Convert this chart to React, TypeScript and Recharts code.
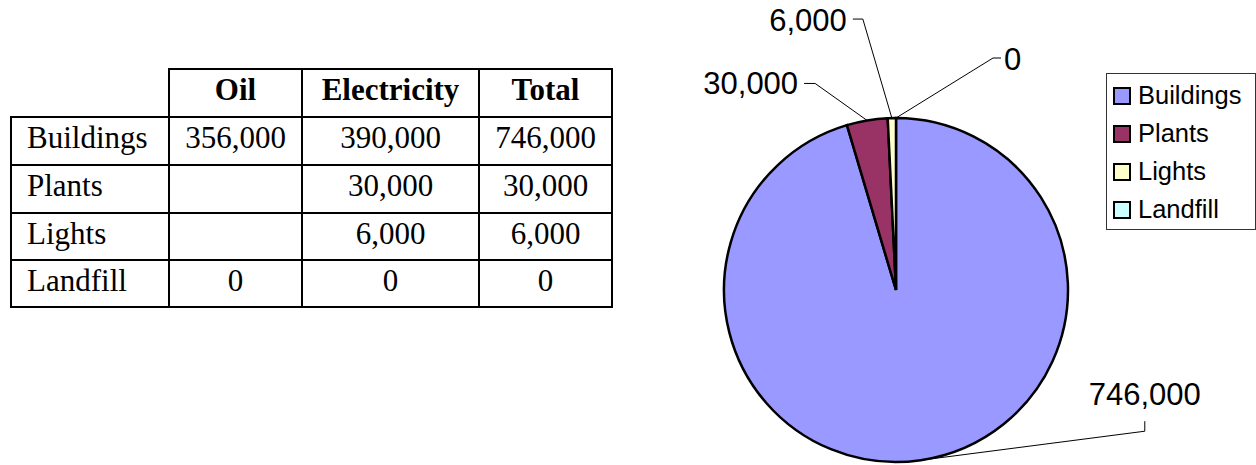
import React from 'react';
import { PieChart, Pie, Cell, Legend } from 'recharts';

// ---- data ----
const categories = ['Buildings', 'Plants', 'Lights', 'Landfill'];
const oilValues: (number | null)[] = [356000, null, null, 0];
const electricityValues: (number | null)[] = [390000, 30000, 6000, 0];
const totalValues: number[] = [746000, 30000, 6000, 0];
const columnHeaders = ['Oil', 'Electricity', 'Total'];
const sliceColors = ['#9999FF', '#993366', '#FFFFCC', '#CCFFFF'];

const pieData = categories.map((name, i) => ({ name, value: totalValues[i] }));

// ---- layout / styles ----
const W = 1256;
const H = 465;
const PIE_CX = 896;
const PIE_CY = 290;
const PIE_R = 172;

const colX = [11, 169, 302, 479, 612];
const rowY = [69, 117, 165, 213, 260, 307];

const serif = "'Liberation Serif', 'Times New Roman', Times, serif";
const sans = "'Liberation Sans', Arial, Helvetica, sans-serif";

// leader-line geometry per slice, relative to the slice's edge point
const labelLayout = [
  { dx: 224, dy: -29, ex: 0, ey: -10, tx: 0, ty: -16, anchor: 'middle' },
  { dx: -52, dy: -37, ex: -11, ey: 0, tx: -6, ty: 11, anchor: 'end' },
  { dx: -29, dy: -99, ex: -10, ey: 0, tx: -6, ty: 11.5, anchor: 'end' },
  { dx: 97, dy: -60, ex: 8, ey: 0, tx: 3, ty: 11.5, anchor: 'start' },
];

const fmt = (v: number | null) => (v === null || v === undefined ? '' : v.toLocaleString('en-US'));

const renderLabel = (props: any) => {
  const { cx, cy, midAngle, outerRadius, index, value } = props;
  const RAD = Math.PI / 180;
  const sx = cx + outerRadius * Math.cos(-midAngle * RAD);
  const sy = cy + outerRadius * Math.sin(-midAngle * RAD);
  const L = labelLayout[index];
  const mx = sx + L.dx;
  const my = sy + L.dy;
  const exx = mx + L.ex;
  const eyy = my + L.ey;
  return (
    <g key={`lbl-${index}`}>
      <polyline
        points={`${sx},${sy} ${mx},${my} ${exx},${eyy}`}
        fill="none"
        stroke="#000"
        strokeWidth={1}
      />
      <text
        x={exx + L.tx}
        y={eyy + L.ty}
        textAnchor={L.anchor as any}
        fontFamily={sans}
        fontSize={31}
        fill="#000"
      >
        {fmt(value)}
      </text>
    </g>
  );
};

const LegendBox = () => (
  <div
    style={{
      boxSizing: 'border-box',
      width: 150,
      height: 157,
      border: '1px solid #333',
      background: '#fff',
      paddingTop: 3,
      paddingLeft: 6,
      fontFamily: sans,
      fontSize: 25.5,
      color: '#000',
    }}
  >
    {categories.map((c, i) => (
      <div key={c} style={{ height: 38, display: 'flex', alignItems: 'center' }}>
        <span
          style={{
            display: 'inline-block',
            boxSizing: 'border-box',
            width: 18,
            height: 18,
            border: '2px solid #000',
            background: sliceColors[i],
            marginRight: 7,
          }}
        />
        <span style={{ lineHeight: 1 }}>{c}</span>
      </div>
    ))}
  </div>
);

const Cellbox = ({ r, c, children, bold, left, noBorder }: any) => {
  const x0 = colX[c];
  const x1 = colX[c + 1];
  const y0 = rowY[r];
  const y1 = rowY[r + 1];
  return (
    <div
      style={{
        position: 'absolute',
        left: x0 - 1,
        top: y0 - 1,
        width: x1 - x0 + 2,
        height: y1 - y0 + 2,
        boxSizing: 'border-box',
        border: noBorder ? 'none' : '2px solid #000',
        display: 'flex',
        alignItems: 'center',
        justifyContent: left ? 'flex-start' : 'center',
        paddingLeft: left ? 15 : 0,
        paddingBottom: 6,
        fontFamily: serif,
        fontSize: 31,
        fontWeight: bold ? 'bold' : 'normal',
        whiteSpace: 'nowrap',
        color: '#000',
      }}
    >
      {children}
    </div>
  );
};

export default function App() {
  const valueCols = [oilValues, electricityValues, totalValues];
  return (
    <div style={{ position: 'absolute', left: 0, top: 0, width: W, height: H, background: '#fff' }}>
      <Cellbox r={0} c={0} noBorder />
      {columnHeaders.map((h, j) => (
        <Cellbox key={h} r={0} c={j + 1} bold>
          {h}
        </Cellbox>
      ))}
      {categories.map((cat, i) => (
        <React.Fragment key={cat}>
          <Cellbox r={i + 1} c={0} left>
            {cat}
          </Cellbox>
          {valueCols.map((col, j) => (
            <Cellbox key={j} r={i + 1} c={j + 1}>
              {fmt(col[i])}
            </Cellbox>
          ))}
        </React.Fragment>
      ))}
      <div style={{ position: 'absolute', left: 0, top: 0 }}>
        <PieChart width={W} height={H} margin={{ top: 0, right: 0, bottom: 0, left: 0 }}>
          <Pie
            data={pieData}
            dataKey="value"
            nameKey="name"
            cx={PIE_CX}
            cy={PIE_CY}
            outerRadius={PIE_R}
            startAngle={90}
            endAngle={-270}
            stroke="#000"
            strokeWidth={2.5}
            label={renderLabel}
            labelLine={false}
            isAnimationActive={false}
          >
            {pieData.map((d, i) => (
              <Cell key={d.name} fill={sliceColors[i]} stroke="#000" strokeWidth={2.5} />
            ))}
          </Pie>
          <Legend
            layout="vertical"
            align="right"
            verticalAlign="top"
            content={() => <LegendBox />}
            wrapperStyle={{ position: 'absolute', left: 1106, top: 73, width: 150, height: 157 }}
          />
        </PieChart>
      </div>
    </div>
  );
}
